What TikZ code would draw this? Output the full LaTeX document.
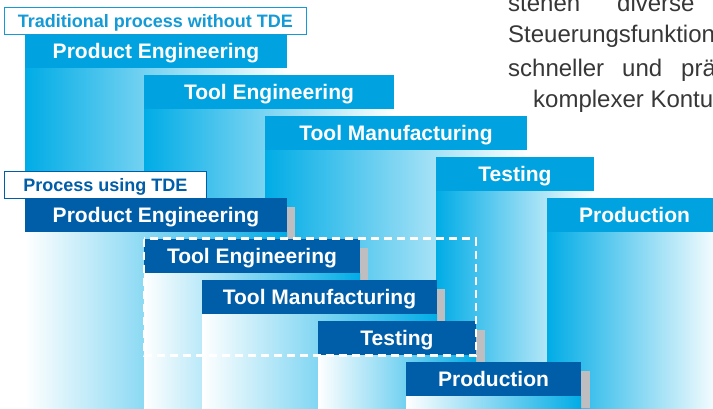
\documentclass[tikz,border=0pt]{standalone}
\usepackage{fontspec}
\setmainfont{Liberation Sans}
\definecolor{cyanH}{RGB}{0,163,224}
\definecolor{cyanB}{RGB}{0,172,230}
\definecolor{darkH}{RGB}{0,94,168}
\definecolor{shadowG}{RGB}{190,190,193}
\definecolor{txtG}{RGB}{55,55,55}
\definecolor{lblC}{RGB}{20,155,215}
\begin{document}
\begin{tikzpicture}[x=1pt,y=-1pt,
  hdr/.style={anchor=north west, minimum height=34pt, inner sep=0pt, outer sep=0pt, text height=15pt, text depth=0pt, text=white, font=\bfseries\fontsize{21}{21}\selectfont},
  tradhdr/.style={hdr, fill=cyanH},
  tdehdr/.style={hdr, fill=darkH},
  tradbody/.style={left color=cyanB, right color=white},
  tdebody/.style={left color=white, right color=cyanB},
  shadowbar/.style={fill=shadowG},
  lbl/.style={anchor=north west, inner sep=0pt, minimum height=26.5pt, text height=13pt, text depth=0pt, fill=white, draw, line width=0.8pt, font=\bfseries\fontsize{18}{18}\selectfont},
  german/.style={anchor=base west, inner sep=0pt, text=txtG, font=\fontsize{24}{24}\selectfont},
  tdeframe/.style={draw=white, line width=2.5pt, dash pattern=on 8pt off 5pt},
]
\useasboundingbox (0,0) rectangle (713,408);
\clip (0,0) rectangle (713,408);
\coordinate (bot) at (0,408);
% German text fragment
\node[german] (g1a) at (508,11) {stehen};
\node[german] (g1b) at (617,11) {diverse};
\node[german] (g2) at (508,42) {Steuerungsfunktion};
\node[german] (g3a) at (508,76) {schneller};
\node[german] (g3b) at (622,76) {und};
\node[german] (g3c) at (681,76) {prä};
\node[german] (g4) at (533,107) {komplexer Kontur};
% Traditional process
\node[tradhdr, minimum width=262pt] (t1) at (25,34) {Product Engineering};
\shade[tradbody] (t1.south west) rectangle (t1.south east |- bot);
\node[tradhdr, minimum width=250pt] (t2) at (144,75) {Tool Engineering};
\shade[tradbody] (t2.south west) rectangle (t2.south east |- bot);
\node[tradhdr, minimum width=262pt] (t3) at (265,116) {Tool Manufacturing};
\shade[tradbody] (t3.south west) rectangle (t3.south east |- bot);
\node[tradhdr, minimum width=158pt] (t4) at (436,157) {Testing};
\shade[tradbody] (t4.south west) rectangle (t4.south east |- bot);
\node[tradhdr, minimum width=175pt] (t5) at (547,198) {Production};
\shade[tradbody] (t5.south west) rectangle (t5.south east |- bot);
\node[lbl, draw=lblC, text=lblC, minimum width=302pt] (lt) at (4,7) {Traditional process without TDE};
% Process using TDE
\node[lbl, draw=darkH, text=darkH, minimum width=202pt] (ld) at (4,171) {Process using TDE};
\fill[shadowbar] (287,207) rectangle (295,408);
\node[tdehdr, minimum width=262pt] (d1) at (25,198) {Product Engineering};
\shade[tdebody] (d1.south west) rectangle (d1.south east |- bot);
\fill[shadowbar] (360,248) rectangle (368,408);
\node[tdehdr, minimum width=216pt] (d2) at (144,239) {Tool Engineering};
\shade[tdebody] (d2.south west) rectangle (d2.south east |- bot);
\fill[shadowbar] (437,289) rectangle (445,408);
\node[tdehdr, minimum width=235pt] (d3) at (202,280) {Tool Manufacturing};
\shade[tdebody] (d3.south west) rectangle (d3.south east |- bot);
\fill[shadowbar] (476,330) rectangle (485,408);
\node[tdehdr, minimum width=158pt] (d4) at (318,321) {Testing};
\shade[tdebody] (d4.south west) rectangle (d4.south east |- bot);
\fill[shadowbar] (581,371) rectangle (590,408);
\node[tdehdr, minimum width=175pt] (d5) at (406,362) {Production};
\shade[tdebody] (d5.south west) rectangle (d5.south east |- bot);
% dashed frame
\draw[tdeframe] (144,238.5) rectangle (476,355.5);
\end{tikzpicture}
\end{document}
